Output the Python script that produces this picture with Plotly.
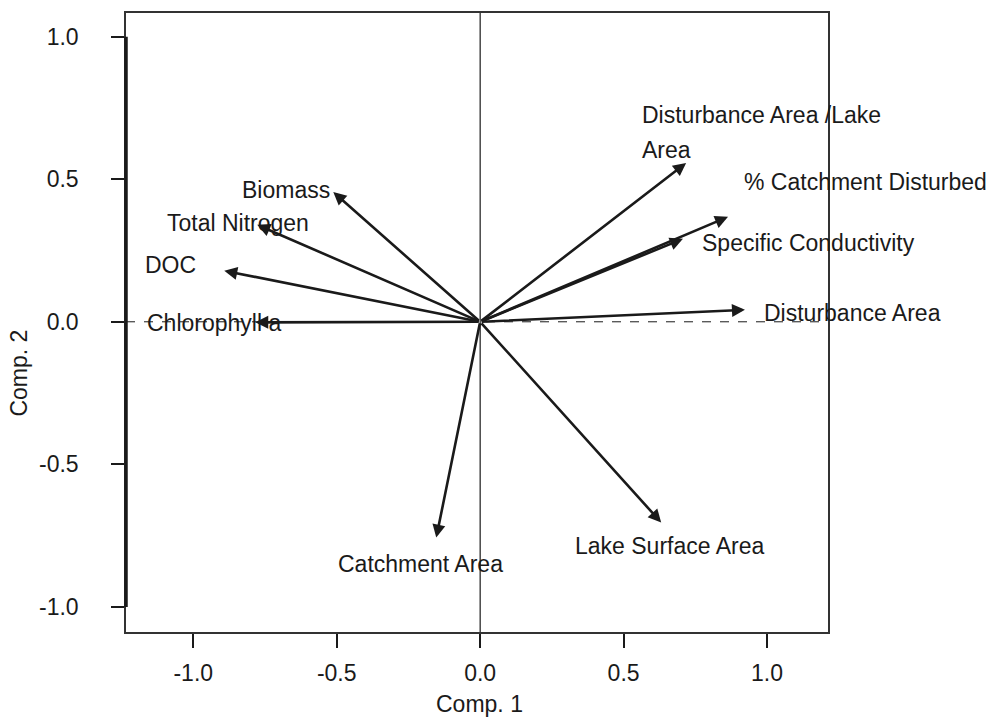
import plotly.graph_objects as go

# Loadings (Comp. 1, Comp. 2)
variables = ["Biomass", "Total Nitrogen", "DOC", "Chlorophyll a",
             "Disturbance Area /Lake Area", "% Catchment Disturbed",
             "Specific Conductivity", "Disturbance Area",
             "Catchment Area", "Lake Surface Area"]
comp1 = [-0.512, -0.777, -0.892, -0.784, 0.718, 0.864, 0.707, 0.923, -0.153, 0.631]
comp2 = [0.455, 0.340, 0.179, -0.002, 0.557, 0.368, 0.291, 0.042, -0.757, -0.704]

# Label text lines and their (left-edge x, centre y) positions in data units
label_lines = ["Biomass", "Total Nitrogen", "DOC", "Chlorophyll a",
               "Disturbance Area /Lake", "Area", "% Catchment Disturbed",
               "Specific Conductivity", "Disturbance Area",
               "Catchment Area", "Lake Surface Area"]
label_x = [-0.836, -1.098, -1.174, -1.167, 0.557, 0.557, 0.913, 0.767, 0.983, -0.502, 0.324]
label_y = [0.463, 0.347, 0.200, -0.003, 0.725, 0.602, 0.490, 0.277, 0.032, -0.851, -0.785]

tick_vals = [-1.0, -0.5, 0.0, 0.5, 1.0]
tick_text = ["-1.0", "-0.5", "0.0", "0.5", "1.0"]

x_range = [-1.2345, 1.2125]
y_range = [-1.088, 1.083]

FONT = "Liberation Sans, Arial, sans-serif"
FS = 23
INK = "#1a1a1a"

fig = go.Figure()
# invisible trace to establish axes
fig.add_trace(go.Scatter(x=comp1, y=comp2, mode="markers",
                         marker=dict(size=1, color="rgba(0,0,0,0)"),
                         hoverinfo="skip", showlegend=False))

shapes = [
    # horizontal zero reference (dashed)
    dict(type="line", xref="paper", yref="y", x0=0, x1=1, y0=0, y1=0,
         line=dict(color=INK, width=1, dash="dash")),
    # vertical zero reference
    dict(type="line", xref="x", yref="paper", x0=0, x1=0, y0=0, y1=1,
         line=dict(color=INK, width=1.2)),
    # thick y axis line between first and last ticks
    dict(type="line", xref="paper", yref="y", x0=0, x1=0,
         y0=tick_vals[0], y1=tick_vals[-1],
         line=dict(color=INK, width=3.5)),
]

annotations = []
for name, x, y in zip(variables, comp1, comp2):
    annotations.append(dict(
        x=x, y=y, ax=0, ay=0, xref="x", yref="y", axref="x", ayref="y",
        text="", showarrow=True, arrowhead=2, arrowsize=1.0,
        arrowwidth=2.6, arrowcolor=INK, standoff=0))

for txt, x, y in zip(label_lines, label_x, label_y):
    annotations.append(dict(
        x=x, y=y, xref="x", yref="y", text=txt, showarrow=False,
        xanchor="left", yanchor="middle",
        font=dict(family=FONT, size=FS, color=INK)))

annotations.append(dict(x=0.503, y=-0.116, xref="paper", yref="paper",
                        text="Comp. 1", showarrow=False, xanchor="center",
                        yanchor="middle",
                        font=dict(family=FONT, size=FS, color=INK)))
annotations.append(dict(x=-0.152, y=0.418, xref="paper", yref="paper",
                        text="Comp. 2", showarrow=False, textangle=-90,
                        xanchor="center", yanchor="middle",
                        font=dict(family=FONT, size=FS, color=INK)))

fig.update_layout(
    width=995, height=719,
    margin=dict(l=126, r=167, t=13, b=87),
    paper_bgcolor="white", plot_bgcolor="white",
    shapes=shapes, annotations=annotations, showlegend=False,
    xaxis=dict(range=x_range, tickvals=tick_vals, ticktext=tick_text,
               ticks="outside", ticklen=14, tickwidth=2, tickcolor=INK,
               showgrid=False, zeroline=False, showline=True,
               linecolor="#333333", linewidth=1.5, mirror=True,
               tickfont=dict(family=FONT, size=FS, color=INK),
               ticklabelstandoff=6),
    yaxis=dict(range=y_range, tickvals=tick_vals, ticktext=tick_text,
               ticks="outside", ticklen=13, tickwidth=2, tickcolor=INK,
               showgrid=False, zeroline=False, showline=True,
               linecolor="#333333", linewidth=1.5, mirror=True,
               tickfont=dict(family=FONT, size=FS, color=INK),
               ticklabelstandoff=28),
)

fig.write_html("out.html")
